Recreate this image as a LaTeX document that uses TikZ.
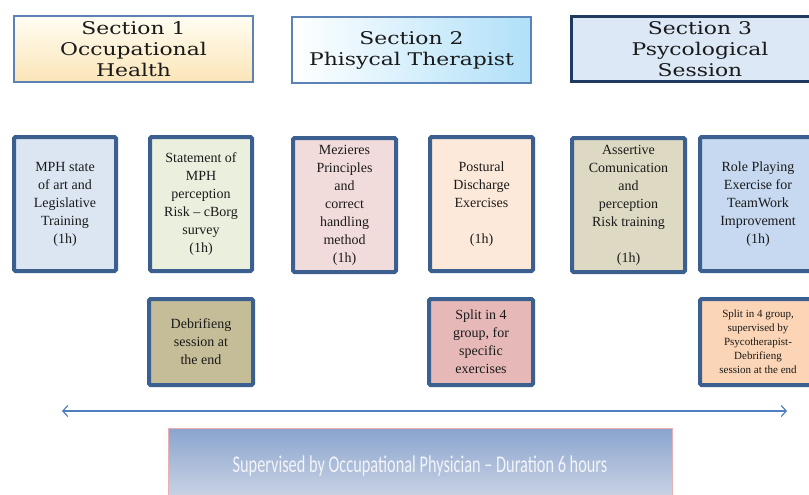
\documentclass[tikz,border=0pt]{standalone}
\usepackage{fontspec}
\setmainfont{Liberation Serif}
\newfontfamily\headfont[Ligatures=TeX, FakeStretch=1.25]{DejaVu Serif}
\newfontfamily\calibri[Ligatures=TeX, FakeStretch=0.68]{Carlito}
\usetikzlibrary{arrows.meta}

\definecolor{secline}{HTML}{5B83B8}
\definecolor{secdark}{HTML}{1F3A5F}
\definecolor{frameblue}{HTML}{3B5F8E}
\definecolor{arrowblue}{HTML}{4F7FBF}
\definecolor{inktext}{HTML}{1A1A1A}

\tikzset{
	section/.style={draw=secline, line width=2pt, minimum width=239pt, minimum height=66pt, align=center, inner sep=0pt, text=inktext, font=\headfont\fontsize{17.5}{21}\selectfont},
	task/.style={draw=frameblue, line width=4pt, rounded corners=1.5pt, minimum width=102pt, minimum height=134pt, align=center, inner sep=0pt, text=inktext, font=\fontsize{14}{18}\selectfont},
	note/.style={task, minimum width=104pt, minimum height=86pt},
}

\begin{document}
\begin{tikzpicture}[x=1pt, y=-1pt]
			\useasboundingbox (0, 0) rectangle (809, 495);
			\clip (0, 0) rectangle (809, 495);
			% section headers
			\node[section, top color={rgb,255:red,255;green,253;blue,242}, bottom color={rgb,255:red,251;green,229;blue,184}](S1) at (133.5, 49){Section 1\\Occupational\\Health};
			\node[section, left color=white, right color={rgb,255:red,176;green,224;blue,248}](S2) at (411.5, 50){Section 2\\Phisycal Therapist};
			\node[section, draw=secdark, line width=3pt, fill={rgb,255:red,220;green,232;blue,246}, minimum width=257pt, minimum height=65pt](S3) at (700, 49){Section 3\\Psycological\\Session};
			% one hour blocks
			\node[task, fill={rgb,255:red,220;green,230;blue,242}](T1) at (65, 204){MPH state\\of art and\\Legislative\\Training\\(1h)};
			\node[task, fill={rgb,255:red,235;green,240;blue,222}](T2) at (201, 204){Statement of\\MPH\\perception\\Risk -- cBorg\\survey\\(1h)};
			\node[task, fill={rgb,255:red,242;green,220;blue,219}, minimum width=103pt](T3) at (344.5, 205){Mezieres\\Principles\\and\\correct\\handling\\method\\(1h)};
			\node[task, fill={rgb,255:red,253;green,233;blue,217}, minimum width=103pt](T4) at (481.5, 204){Postural\\Discharge\\Exercises\\[18pt](1h)};
			\node[task, fill={rgb,255:red,221;green,217;blue,195}, minimum width=113pt](T5) at (628.5, 205){Assertive\\Comunication\\and\\perception\\Risk training\\[18pt](1h)};
			\node[task, fill={rgb,255:red,198;green,217;blue,241}, minimum width=116pt](T6) at (758, 204){Role Playing\\Exercise for\\TeamWork\\Improvement\\(1h)};
			% notes under the blocks
			\node[note, fill={rgb,255:red,196;green,189;blue,151}](D1) at (201, 342){Debrifieng\\session at\\the end};
			\node[note, fill={rgb,255:red,230;green,185;blue,184}](D2) at (481, 342){Split in 4\\group, for\\specific\\exercises};
			\node[note, fill={rgb,255:red,251;green,213;blue,181}, minimum width=116pt, font=\fontsize{11}{14}\selectfont](D3) at (758, 342){Split in 4 group,\\supervised by\\Psycotherapist-\\Debrifieng\\session at the end};
			% duration arrow and supervisor bar
			\coordinate (L) at (62, 411);
			\coordinate (R) at (787, 411);
			\draw[arrowblue, line width=1.2pt, {Straight Barb[length=5pt, width=11pt]}-{Straight Barb[length=5pt, width=11pt]}] (L) -- (R);
			\node[draw={rgb,255:red,232;green,176;blue,176}, line width=0.8pt, top color={rgb,255:red,138;green,164;blue,206}, bottom color={rgb,255:red,208;green,216;blue,230}, minimum width=504pt, minimum height=76pt, text={rgb,255:red,242;green,244;blue,248}, font=\calibri\fontsize{24}{26}\selectfont](B) at (420, 466){Supervised by Occupational Physician -- Duration 6 hours};
		\end{tikzpicture}
\end{document}
